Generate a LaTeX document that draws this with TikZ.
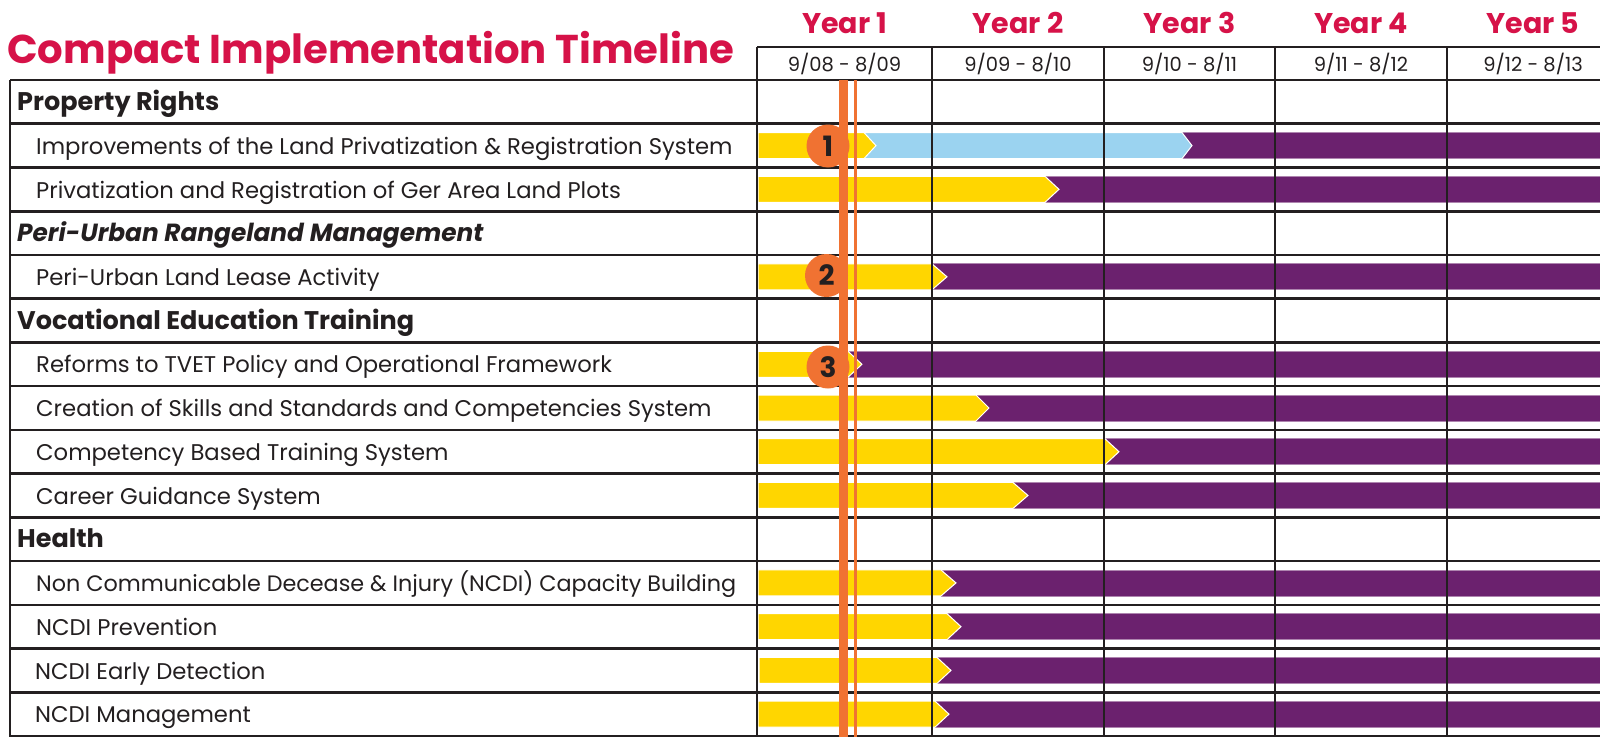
\documentclass[tikz,border=0pt]{standalone}
\usepackage{fontspec}
\setmainfont{Poppins}
\definecolor{crimson}{RGB}{214,18,72}
\definecolor{ink}{RGB}{35,31,32}
\definecolor{ybar}{RGB}{255,214,0}
\definecolor{pbar}{RGB}{107,33,110}
\definecolor{bbar}{RGB}{155,211,240}
\definecolor{oline}{RGB}{240,114,50}
\begin{document}
\begin{tikzpicture}[x=1pt,y=-1pt,
  grid/.style={draw=ink,line width=2.6pt},
  yellowbar/.style={fill=ybar,draw=white,line width=1pt},
  purplebar/.style={fill=pbar,draw=pbar!55!white,line width=0.8pt},
  bluebar/.style={fill=bbar,draw=white,line width=1pt},
  titletext/.style={font=\fontsize{40.2}{46}\selectfont\bfseries,text=crimson,inner sep=0pt,anchor=base west},
  yeartext/.style={font=\fontsize{28.5}{32}\selectfont\bfseries,text=crimson,inner sep=0pt,anchor=base},
  datetext/.style={font=\fontsize{19.5}{22}\selectfont,text=ink,inner sep=0pt,anchor=base},
  headtext/.style={font=\fontsize{25.5}{30}\selectfont\bfseries,text=ink,inner sep=0pt,anchor=base west},
  headitalic/.style={font=\fontsize{24.8}{30}\selectfont\bfseries\itshape,text=ink,inner sep=0pt,anchor=base west},
  itemtext/.style={font=\fontsize{22.7}{27}\selectfont,text=ink,inner sep=0pt,anchor=base west},
  itemnarrow/.style={font=\fontsize{22.3}{27}\selectfont,text=ink,inner sep=0pt,anchor=base west},
  marker/.style={circle,fill=oline,minimum size=43pt,inner sep=0pt,text=ink,font=\fontsize{28}{32}\selectfont\bfseries}]
\useasboundingbox (0,0) rectangle (1600,736);
\clip (0,0) rectangle (1600,736);
\fill[white] (0,0) rectangle (1600,736);
% ---- title and header texts
\node[titletext] (title) at (7,63) {Compact Implementation Timeline};
\foreach \i/\x in {1/844.5, 2/1018, 3/1189.5, 4/1361, 5/1533}{
  \node[yeartext] (year\i) at (\x,33) {Year \i};
}
\node[datetext] (date1) at (844.5,71) {9/08 - 8/09};
\node[datetext] (date2) at (1018,71) {9/09 - 8/10};
\node[datetext] (date3) at (1189.5,71) {9/10 - 8/11};
\node[datetext] (date4) at (1361,71) {9/11 - 8/12};
\node[datetext] (date5) at (1533,71) {9/12 - 8/13};
% ---- bars
\def\rh{43.733}
% row 1: yellow -> blue -> purple
\pgfmathsetmacro\c{80+1.5*\rh}
\fill[purplebar] (1182,\c-13) rectangle (1610,\c+13);
\filldraw[bluebar] (864,\c-13) -- (1182,\c-13) -- (1192,\c) -- (1182,\c+13) -- (864,\c+13) -- cycle;
\filldraw[yellowbar] (758,\c-13) -- (864,\c-13) -- (876,\c) -- (864,\c+13) -- (758,\c+13) -- cycle;
% other rows: yellow -> purple
\foreach \r/\e/\t/\s in {2/1045/1059/758, 4/932/947/758, 6/848/862/758, 7/976/989/758, 8/1105/1119/758, 9/1013/1028/758, 11/941/956/758, 12/947/961/758, 13/937/951/759, 14/935/949/758}{
  \pgfmathsetmacro\c{80+(\r+0.5)*\rh}
  \fill[purplebar] (\e,\c-13) rectangle (1610,\c+13);
  \filldraw[yellowbar] (\s,\c-13) -- (\e,\c-13) -- (\t,\c) -- (\e,\c+13) -- (\s,\c+13) -- cycle;
}
% ---- grid
\foreach \i in {0,...,15}{
  \pgfmathsetmacro\yy{80+\i*\rh}
  \draw[grid] (10,\yy) -- (1610,\yy);
}
\draw[grid] (757,47) -- (1610,47);
\draw[grid] (10,80) -- (10,740);
\foreach \x in {757,932,1104,1275,1447}{
  \draw[grid] (\x,47) -- (\x,740);
}
% ---- row labels
\foreach \r/\t in {0/Property Rights, 5/Vocational Education Training, 10/Health}{
  \pgfmathsetmacro\c{80+(\r+0.5)*\rh+8.7}
  \node[headtext] (row\r) at (17,\c) {\t};
}
\pgfmathsetmacro\c{80+3.5*\rh+8.7}
\node[headitalic] (row3) at (17,\c) {Peri-Urban Rangeland Management};
\foreach \r/\t/\x in {1/Improvements of the Land Privatization \& Registration System/36,
  2/Privatization and Registration of Ger Area Land Plots/36,
  4/Peri-Urban Land Lease Activity/36,
  6/Reforms to TVET Policy and Operational Framework/36,
  7/Creation of Skills and Standards and Competencies System/36,
  8/Competency Based Training System/36,
  9/Career Guidance System/36,
  12/NCDI Prevention/36,
  13/NCDI Early Detection/35,
  14/NCDI Management/35}{
  \pgfmathsetmacro\c{80+(\r+0.5)*\rh+8.7}
  \node[itemtext] (row\r) at (\x,\c) {\t};
}
\pgfmathsetmacro\c{80+11.5*\rh+8.7}
\node[itemnarrow] (row11) at (36,\c) {Non Communicable Decease \& Injury (NCDI) Capacity Building};
% ---- markers
\node[marker] (m1) at (828,146) {1};
\node[marker] (m2) at (826.5,275.5) {2};
\node[marker] (m3) at (828,367) {3};
% ---- current-date lines
\coordinate (lt) at (843,80);
\coordinate (lb) at (843,740);
\coordinate (nt) at (855.3,80);
\coordinate (nb) at (855.3,740);
\draw[oline,line width=9pt] (lt) -- (lb);
\draw[oline,line width=3.3pt] (nt) -- (nb);
\end{tikzpicture}
\end{document}
